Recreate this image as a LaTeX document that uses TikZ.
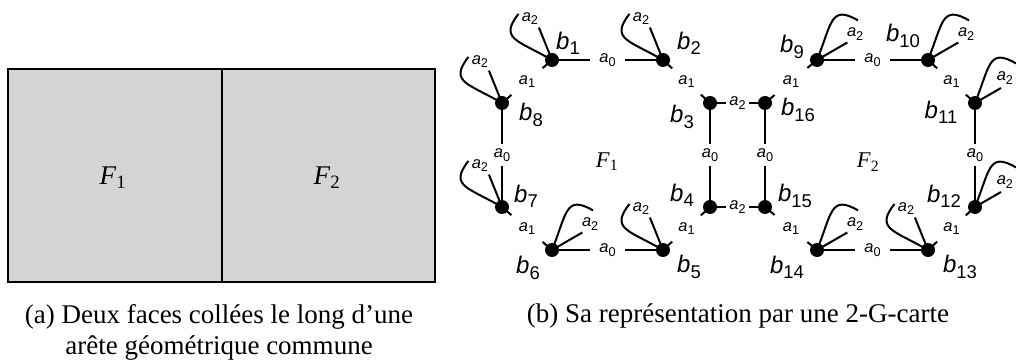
\documentclass[tikz,border=0pt]{standalone}
\usepackage{fontspec}
\setmainfont{Liberation Serif}
\setsansfont{Liberation Sans}
\usetikzlibrary{calc}
\newcommand\tA[2]{\textit{#1}\textsubscript{#2}}
\newcommand\tB[2]{\textit{#1}\raisebox{-0.22em}{\scalebox{0.77}{#2}}}
\tikzset{
  dot/.style={circle,fill=black,inner sep=0pt,minimum size=14pt},
  edge/.style={line width=2pt},
  alab/.style={inner sep=0pt,font={\fontsize{16.5}{19}\selectfont\sffamily}},
  lab0/.style={alab,fill=white,inner xsep=9pt,inner ysep=5pt},
  lab2/.style={alab,fill=white,inner xsep=3pt,inner ysep=3pt},
  blab/.style={inner sep=0pt,font={\fontsize{24}{27}\selectfont\sffamily}},
  flab/.style={inner sep=0pt,font={\fontsize{22.5}{27}\selectfont}},
  boxlab/.style={inner sep=0pt,font={\fontsize{27}{32}\selectfont}},
  captext/.style={inner sep=0pt,font={\fontsize{27}{31}\selectfont},anchor=base},
  face/.style={fill=black!17,draw=black,line width=2.5pt}
}
% loop: node, angle, straight length, label angle offset, label distance
\newcommand\aloop[5]{%
  \draw[edge] (#1.center) -- ++({#2}:#3pt);
  \draw[edge] (#1.center) .. controls +({#2+38}:40pt) and +({#2+120}:32pt) .. ($(#1.center)+({#2+14}:57pt)$);
  \node[alab] at ($(#1.center)+({#2+#4}:#5pt)$) {\tB{a}{2}};
}
\newcommand\aone[2]{%
  \draw[edge] (#1.center) -- ($(#1.center)!12.5pt!(#2.center)$);
  \draw[edge] (#2.center) -- ($(#2.center)!12.5pt!(#1.center)$);
  \node[alab] at ($(#1.center)!0.5!(#2.center)$) {\tB{a}{1}};
}
\begin{document}
\begin{tikzpicture}[x=1pt,y=1pt]
\useasboundingbox (0,0) rectangle (1016,-363);
% (a) faces
\draw[face] (8,-69) rectangle (435,-282);
\draw[line width=2.5pt] (222,-69) -- (222,-282);
\node[boxlab] (F1a) at (113,-178) {\tA{F}{1}};
\node[boxlab] (F2a) at (327,-178) {\tA{F}{2}};
\node[captext] (capa1) at (219,-323) {(a) Deux faces collées le long d’une};
\node[captext] (capa2) at (219,-354) {arête géométrique commune};
\node[captext] (capb) at (738,-322) {(b) Sa représentation par une 2-G-carte};
% (b) darts
\node[dot] (b1) at (552,-60) {};
\node[dot] (b2) at (663,-60) {};
\node[dot] (b3) at (710,-103) {};
\node[dot] (b4) at (710,-207) {};
\node[dot] (b5) at (663,-250) {};
\node[dot] (b6) at (552,-250) {};
\node[dot] (b7) at (502,-207) {};
\node[dot] (b8) at (502,-103) {};
\node[dot] (b9) at (817,-60) {};
\node[dot] (b10) at (928,-60) {};
\node[dot] (b11) at (975,-103) {};
\node[dot] (b12) at (975,-207) {};
\node[dot] (b13) at (928,-250) {};
\node[dot] (b14) at (817,-250) {};
\node[dot] (b15) at (765,-207) {};
\node[dot] (b16) at (765,-103) {};
% alpha0
\draw[edge] (b1) -- node[lab0] {\tB{a}{0}} (b2);
\draw[edge] (b9) -- node[lab0] {\tB{a}{0}} (b10);
\draw[edge] (b6) -- node[lab0] {\tB{a}{0}} (b5);
\draw[edge] (b14) -- node[lab0] {\tB{a}{0}} (b13);
\draw[edge] (b8) -- node[lab0] {\tB{a}{0}} (b7);
\draw[edge] (b3) -- node[lab0] {\tB{a}{0}} (b4);
\draw[edge] (b16) -- node[lab0] {\tB{a}{0}} (b15);
\draw[edge] (b11) -- node[lab0] {\tB{a}{0}} (b12);
% alpha2 edges
\draw[edge] (b3) -- node[lab2] {\tB{a}{2}} (b16);
\draw[edge] (b4) -- node[lab2] {\tB{a}{2}} (b15);
% alpha1
\aone{b1}{b8}
\aone{b2}{b3}
\aone{b9}{b16}
\aone{b10}{b11}
\aone{b7}{b6}
\aone{b4}{b5}
\aone{b15}{b14}
\aone{b12}{b13}
% alpha2 loops
\aloop{b1}{112}{35}{6}{47}
\aloop{b2}{112}{35}{6}{47}
\aloop{b8}{112}{35}{6}{47}
\aloop{b7}{112}{35}{6}{47}
\aloop{b5}{112}{35}{6}{47}
\aloop{b13}{112}{35}{6}{47}
\aloop{b6}{30}{35}{4}{46}
\aloop{b9}{30}{35}{4}{46}
\aloop{b10}{30}{35}{4}{46}
\aloop{b14}{30}{35}{4}{46}
\aloop{b11}{30}{30}{10}{39}
\aloop{b12}{30}{30}{10}{39}
% dart labels
\node[blab] (l1) at (568,-43) {\tB{b}{1}};
\node[blab] (l2) at (689,-43) {\tB{b}{2}};
\node[blab] (l3) at (682,-117) {\tB{b}{3}};
\node[blab] (l4) at (682,-195) {\tB{b}{4}};
\node[blab] (l5) at (689,-267) {\tB{b}{5}};
\node[blab] (l6) at (528,-268) {\tB{b}{6}};
\node[blab] (l7) at (526,-196) {\tB{b}{7}};
\node[blab] (l8) at (531,-115) {\tB{b}{8}};
\node[blab] (l9) at (792,-47) {\tB{b}{9}};
\node[blab] (l10) at (903,-36) {\tB{b}{10}};
\node[blab] (l11) at (941,-112) {\tB{b}{11}};
\node[blab] (l12) at (944,-196) {\tB{b}{12}};
\node[blab] (l13) at (960,-267) {\tB{b}{13}};
\node[blab] (l14) at (787,-267) {\tB{b}{14}};
\node[blab] (l15) at (795,-196) {\tB{b}{15}};
\node[blab] (l16) at (798,-110) {\tB{b}{16}};
% faces in (b)
\node[flab] (F1b) at (607,-162) {\tA{F}{1}};
\node[flab] (F2b) at (868,-162) {\tA{F}{2}};
\end{tikzpicture}
\end{document}
